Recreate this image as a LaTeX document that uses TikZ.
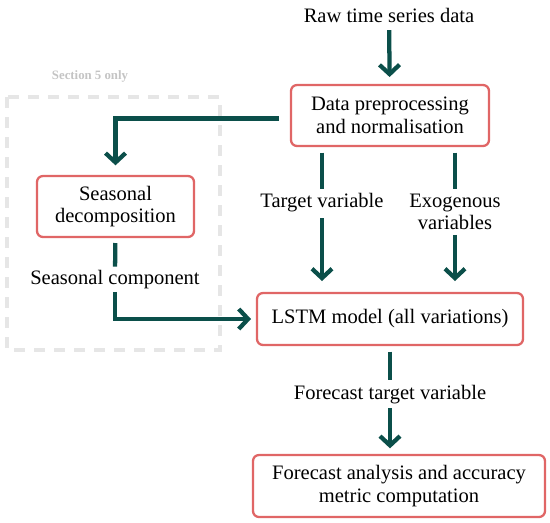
\documentclass[tikz,border=0pt]{standalone}
\usepackage{fontspec}
\setmainfont{Liberation Serif}
\newfontfamily\timesx{Liberation Serif}
\usetikzlibrary{arrows.meta}
\definecolor{flowteal}{HTML}{0B4F4A}
\definecolor{boxred}{HTML}{E06666}
\definecolor{dashgrey}{HTML}{E6E6E6}
\definecolor{notegrey}{HTML}{C4C4C4}
\begin{document}
\begin{tikzpicture}[x=0.75pt,y=-0.75pt,
  box/.style={draw=boxred, line width=1.7pt, rounded corners=4.5pt, fill=white,
    align=center, inner sep=0pt, outer sep=0pt, font=\timesx\fontsize{15.4}{17}\selectfont},
  lbl/.style={align=center, inner sep=0pt, outer sep=0pt, font=\timesx\fontsize{15.4}{17}\selectfont},
  flowline/.style={draw=flowteal, line width=3.2pt},
  flow/.style={flowline, -{Straight Barb[length=7pt,width=15pt]}},
]
\useasboundingbox (0,0) rectangle (550,522);

% dashed region
\draw[dashgrey, line width=3pt, dash pattern=on 8.25pt off 6.75pt] (7,97) rectangle (220,350);
\node[lbl, font=\timesx\fontsize{9.6}{10}\selectfont\bfseries, text=notegrey] (note) at (90,76) {Section 5 only};

% nodes
\node[lbl] (raw) at (389,15) {Raw time series data};
\node[box, minimum width=148.5pt, minimum height=45.75pt] (dp) at (390,115.5) {Data preprocessing\\and normalisation};
\node[box, minimum width=117.75pt, minimum height=45.75pt] (sd) at (115.5,206.5) {Seasonal\\decomposition};
\node[box, minimum width=199.5pt, minimum height=39pt] (lstm) at (390,319) {LSTM model (all variations)};
\node[box, minimum width=219pt, minimum height=46.5pt] (fa) at (399,486) {Forecast analysis and accuracy\\metric computation};

\node[lbl] (tv) at (322,203) {Target variable};
\node[lbl] (ex) at (455,212) {Exogenous\\variables};
\node[lbl] (sc) at (115,280) {Seasonal component};
\node[lbl] (ft) at (390,395) {Forecast target variable};

% connectors
\draw[flow, shorten <=6pt, shorten >=6pt] (raw) -- (dp);
\draw[flow, shorten <=9pt, shorten >=8pt] ([yshift=-2.2pt]dp.west) -| (sd);
\draw[flowline, shorten <=4.5pt, shorten >=3pt] (sd) -- (sc);
\draw[flow, shorten <=2pt, shorten >=4.5pt] (sc) |- (lstm);

\draw[flowline, shorten <=5pt, shorten >=3.5pt] (dp.south -| tv) -- (tv);
\draw[flow, shorten <=4.5pt, shorten >=9pt] (tv) -- (lstm.north -| tv);
\draw[flowline, shorten <=5pt, shorten >=3.5pt] (dp.south -| ex) -- (ex);
\draw[flow, shorten <=3.5pt, shorten >=9pt] (ex) -- (lstm.north -| ex);

\draw[flowline, shorten <=5pt, shorten >=4pt] (lstm.south -| ft) -- (ft);
\draw[flow, shorten <=3pt, shorten >=5pt] (ft) -- (fa.north -| ft);
\end{tikzpicture}
\end{document}
